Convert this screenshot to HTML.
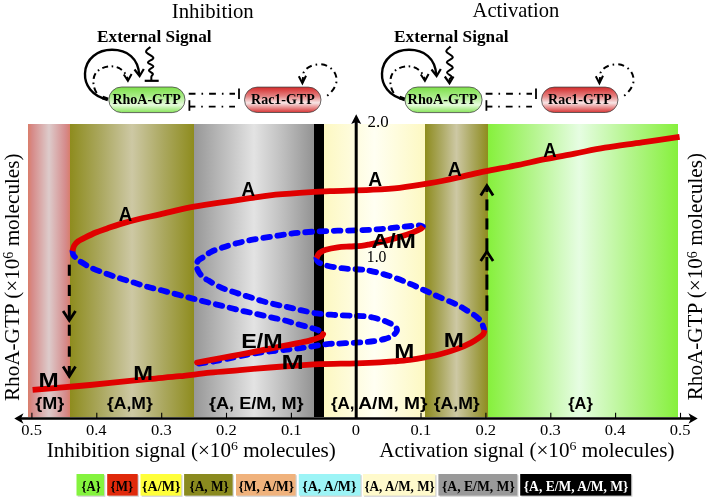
<!DOCTYPE html>
<html><head><meta charset="utf-8"><title>RhoA-GTP bifurcation</title>
<style>html,body{margin:0;padding:0;background:#fff;width:709px;height:503px;overflow:hidden}svg{display:block}</style>
</head><body>
<svg width="709" height="503" viewBox="0 0 709 503">
<defs><linearGradient id="gPink" x1="0" y1="0" x2="1" y2="0"><stop offset="0" stop-color="#DA7E6A"/><stop offset="0.1" stop-color="#D68A88"/><stop offset="0.5" stop-color="#DDCBCB"/><stop offset="0.9" stop-color="#D58A8A"/><stop offset="1" stop-color="#D87E6C"/></linearGradient><linearGradient id="gOlive" x1="0" y1="0" x2="1" y2="0"><stop offset="0" stop-color="#8E8C1E"/><stop offset="0.25" stop-color="#ABA860"/><stop offset="0.5" stop-color="#CDC8A4"/><stop offset="0.75" stop-color="#ABA860"/><stop offset="1" stop-color="#8E8C1E"/></linearGradient><linearGradient id="gGray" x1="0" y1="0" x2="1" y2="0"><stop offset="0" stop-color="#979797"/><stop offset="0.25" stop-color="#BDBDBD"/><stop offset="0.5" stop-color="#E3E3E3"/><stop offset="0.75" stop-color="#BDBDBD"/><stop offset="1" stop-color="#939393"/></linearGradient><linearGradient id="gYel" x1="0" y1="0" x2="1" y2="0"><stop offset="0" stop-color="#FDF8C2"/><stop offset="0.5" stop-color="#FFFFF2"/><stop offset="1" stop-color="#FDF8C2"/></linearGradient><linearGradient id="gGreen" x1="0" y1="0" x2="1" y2="0"><stop offset="0" stop-color="#86F03C"/><stop offset="0.24" stop-color="#B5F58E"/><stop offset="0.48" stop-color="#E6FDE2"/><stop offset="0.74" stop-color="#B5F58E"/><stop offset="1" stop-color="#86F03C"/></linearGradient><linearGradient id="gRho" x1="0" y1="0" x2="0" y2="1"><stop offset="0" stop-color="#7EE04A"/><stop offset="0.35" stop-color="#A6EC84"/><stop offset="0.7" stop-color="#E6FBDC"/><stop offset="1" stop-color="#86E458"/></linearGradient><linearGradient id="gRac" x1="0" y1="0" x2="0" y2="1"><stop offset="0" stop-color="#D52A2A"/><stop offset="0.35" stop-color="#E48080"/><stop offset="0.62" stop-color="#F8E6E6"/><stop offset="1" stop-color="#D83434"/></linearGradient></defs>
<rect width="709" height="503" fill="#fff"/>
<rect x="28" y="124" width="42" height="293" fill="url(#gPink)"/><rect x="70" y="124" width="124" height="293" fill="url(#gOlive)"/><rect x="194" y="124" width="120" height="293" fill="url(#gGray)"/><rect x="314" y="124" width="10" height="293" fill="#000"/><rect x="324" y="124" width="101" height="293" fill="url(#gYel)"/><rect x="425" y="124" width="63" height="293" fill="url(#gOlive)"/><rect x="488" y="124" width="190" height="293" fill="url(#gGreen)"/><path d="M72.50,251.00 C72.63,251.63 72.63,253.55 73.30,254.80 C73.97,256.05 75.33,257.38 76.50,258.50 C77.67,259.62 77.88,259.97 80.30,261.50 C82.72,263.03 86.83,265.73 91.00,267.70 C95.17,269.67 100.48,271.53 105.30,273.30 C110.12,275.07 115.12,276.75 119.90,278.30 C124.68,279.85 129.42,281.18 134.00,282.60 C138.58,284.02 142.82,285.52 147.40,286.80 C151.98,288.08 156.92,289.12 161.50,290.30 C166.08,291.48 170.43,292.72 174.90,293.90 C179.37,295.08 184.12,296.32 188.30,297.40 C192.48,298.48 195.70,299.32 200.00,300.40 C204.30,301.48 209.40,302.73 214.10,303.90 C218.80,305.07 223.50,306.23 228.20,307.40 C232.90,308.57 237.60,309.82 242.30,310.90 C247.00,311.98 251.70,312.85 256.40,313.90 C261.10,314.95 265.80,316.12 270.50,317.20 C275.20,318.28 281.02,319.50 284.60,320.40 C288.18,321.30 289.45,321.87 292.00,322.60 C294.55,323.33 296.92,323.98 299.90,324.80 C302.88,325.62 306.92,326.63 309.90,327.50 C312.88,328.37 315.73,329.05 317.80,330.00 C319.87,330.95 321.55,332.67 322.30,333.20" fill="none" stroke="#0000FF" stroke-width="5.8" stroke-linecap="round" stroke-dasharray="6.6 7.6" stroke-linejoin="round"/><path d="M199.00,363.60 C201.67,363.20 208.75,362.32 215.00,361.20 C221.25,360.08 229.83,358.20 236.50,356.90 C243.17,355.60 249.42,354.32 255.00,353.40 C260.58,352.48 265.62,351.93 270.00,351.40 C274.38,350.87 278.00,350.55 281.30,350.20 C284.60,349.85 286.07,349.72 289.80,349.30 C293.53,348.88 298.73,348.38 303.70,347.70 C308.67,347.02 315.38,345.83 319.60,345.20 C323.82,344.57 325.98,344.17 329.00,343.90 C332.02,343.63 333.98,343.77 337.70,343.60 C341.42,343.43 347.15,343.12 351.30,342.90 C355.45,342.68 358.83,342.58 362.60,342.30 C366.37,342.02 370.15,341.77 373.90,341.20 C377.65,340.63 382.10,339.75 385.10,338.90 C388.10,338.05 390.08,337.17 391.90,336.10 C393.72,335.03 395.15,333.53 396.00,332.50 C396.85,331.47 397.13,330.98 397.00,329.90 C396.87,328.82 396.23,327.03 395.20,326.00 C394.17,324.97 392.85,324.65 390.80,323.70 C388.75,322.75 385.92,321.33 382.90,320.30 C379.88,319.27 376.08,318.20 372.70,317.50 C369.32,316.80 366.17,316.38 362.60,316.10 C359.03,315.82 356.12,316.00 351.30,315.80 C346.48,315.60 339.45,315.30 333.70,314.90 C327.95,314.50 322.10,314.15 316.80,313.40 C311.50,312.65 306.55,311.40 301.90,310.40 C297.25,309.40 293.18,308.37 288.90,307.40 C284.62,306.43 280.67,305.67 276.20,304.60 C271.73,303.53 266.68,302.30 262.10,301.00 C257.52,299.70 253.17,298.20 248.70,296.80 C244.23,295.40 239.88,294.13 235.30,292.60 C230.72,291.07 225.67,289.60 221.20,287.60 C216.73,285.60 211.57,282.37 208.50,280.60 C205.43,278.83 204.47,278.52 202.80,277.00 C201.13,275.48 199.55,273.42 198.50,271.50 C197.45,269.58 196.53,267.33 196.50,265.50 C196.47,263.67 197.03,261.97 198.30,260.50 C199.57,259.03 201.95,258.15 204.10,256.70 C206.25,255.25 208.15,253.32 211.20,251.80 C214.25,250.28 218.18,249.02 222.40,247.60 C226.62,246.18 231.90,244.53 236.50,243.30 C241.10,242.07 245.28,241.13 250.00,240.20 C254.72,239.27 260.10,238.47 264.80,237.70 C269.50,236.93 274.00,236.27 278.20,235.60 C282.40,234.93 286.05,234.22 290.00,233.70 C293.95,233.18 296.93,232.90 301.90,232.50 C306.87,232.10 313.83,231.60 319.80,231.30 C325.77,231.00 331.73,230.85 337.70,230.70 C343.67,230.55 349.92,230.57 355.60,230.40 C361.28,230.23 366.85,230.00 371.80,229.70 C376.75,229.40 380.78,229.00 385.30,228.60 C389.82,228.20 394.38,227.75 398.90,227.30 C403.42,226.85 409.05,226.20 412.40,225.90 C415.75,225.60 417.23,225.40 419.00,225.50 C420.77,225.60 422.33,226.33 423.00,226.50" fill="none" stroke="#0000FF" stroke-width="5.8" stroke-linecap="round" stroke-dasharray="6.6 7.6" stroke-linejoin="round"/><path d="M316.50,258.30 C316.75,258.92 316.45,260.83 318.00,262.00 C319.55,263.17 322.52,264.35 325.80,265.30 C329.08,266.25 333.73,267.10 337.70,267.70 C341.67,268.30 345.43,268.58 349.60,268.90 C353.77,269.22 359.25,269.27 362.70,269.60 C366.15,269.93 366.92,270.17 370.30,270.90 C373.68,271.63 378.55,272.73 383.00,274.00 C387.45,275.27 392.35,276.80 397.00,278.50 C401.65,280.20 406.25,282.20 410.90,284.20 C415.55,286.20 420.23,288.38 424.90,290.50 C429.57,292.62 433.70,294.60 438.90,296.90 C444.10,299.20 451.38,302.00 456.10,304.30 C460.82,306.60 463.75,308.58 467.20,310.70 C470.65,312.82 474.42,315.03 476.80,317.00 C479.18,318.97 480.30,320.50 481.50,322.50 C482.70,324.50 483.58,327.92 484.00,329.00" fill="none" stroke="#0000FF" stroke-width="5.8" stroke-linecap="round" stroke-dasharray="6.6 7.6" stroke-linejoin="round"/><path d="M72.50,251.00 C72.78,250.10 73.28,247.20 74.20,245.60 C75.12,244.00 76.38,242.63 78.00,241.40 C79.62,240.17 80.93,239.68 83.90,238.20 C86.87,236.72 91.83,234.17 95.80,232.50 C99.77,230.83 103.67,229.60 107.70,228.20 C111.73,226.80 114.62,225.68 120.00,224.10 C125.38,222.52 133.33,220.32 140.00,218.70 C146.67,217.08 151.67,216.28 160.00,214.40 C168.33,212.52 180.07,209.35 190.00,207.40 C199.93,205.45 209.60,204.23 219.60,202.70 C229.60,201.17 241.60,199.43 250.00,198.20 C258.40,196.97 261.73,196.18 270.00,195.30 C278.27,194.42 289.60,193.58 299.60,192.90 C309.60,192.22 318.27,191.72 330.00,191.20 C341.73,190.68 358.40,190.37 370.00,189.80 C381.60,189.23 389.60,188.90 399.60,187.80 C409.60,186.70 420.00,184.97 430.00,183.20 C440.00,181.43 450.43,179.17 459.60,177.20 C468.77,175.23 475.83,173.32 485.00,171.40 C494.17,169.48 504.60,167.73 514.60,165.70 C524.60,163.67 535.00,161.22 545.00,159.20 C555.00,157.18 564.60,155.52 574.60,153.60 C584.60,151.68 593.77,149.57 605.00,147.70 C616.23,145.83 629.57,144.22 642.00,142.40 C654.43,140.58 673.33,137.73 679.60,136.80" fill="none" stroke="#E00000" stroke-width="5.8" stroke-linecap="butt" stroke-linejoin="round"/><path d="M323.10,334.10 C322.92,334.38 322.53,335.30 322.00,335.80 C321.47,336.30 321.83,336.33 319.90,337.10 C317.97,337.87 314.10,339.40 310.40,340.40 C306.70,341.40 301.93,342.25 297.70,343.10 C293.47,343.95 289.62,344.58 285.00,345.50 C280.38,346.42 275.00,347.58 270.00,348.60 C265.00,349.62 260.00,350.62 255.00,351.60 C250.00,352.58 245.67,353.43 240.00,354.50 C234.33,355.57 226.00,357.07 221.00,358.00 C216.00,358.93 214.00,359.35 210.00,360.10 C206.00,360.85 199.17,362.10 197.00,362.50" fill="none" stroke="#E00000" stroke-width="5.8" stroke-linecap="round" stroke-linejoin="round"/><path d="M423.00,226.50 C422.73,226.85 423.17,227.58 421.40,228.60 C419.63,229.62 416.15,231.18 412.40,232.60 C408.65,234.02 403.98,235.60 398.90,237.10 C393.82,238.60 386.72,240.40 381.90,241.60 C377.08,242.80 373.40,243.60 370.00,244.30 C366.60,245.00 364.90,245.43 361.50,245.80 C358.10,246.17 353.57,246.23 349.60,246.50 C345.63,246.77 341.67,246.85 337.70,247.40 C333.73,247.95 328.83,248.87 325.80,249.80 C322.77,250.73 321.05,251.58 319.50,253.00 C317.95,254.42 317.00,257.42 316.50,258.30" fill="none" stroke="#E00000" stroke-width="5.8" stroke-linecap="butt" stroke-linejoin="round"/><path d="M484.50,330.00 C484.35,330.60 484.32,332.45 483.60,333.60 C482.88,334.75 482.25,335.40 480.20,336.90 C478.15,338.40 475.02,340.65 471.30,342.60 C467.58,344.55 463.12,346.65 457.90,348.60 C452.68,350.55 445.48,352.85 440.00,354.30 C434.52,355.75 430.07,356.38 425.00,357.30 C419.93,358.22 414.60,359.13 409.60,359.80 C404.60,360.47 399.93,360.87 395.00,361.30 C390.07,361.73 386.50,362.07 380.00,362.40 C373.50,362.73 366.00,363.02 356.00,363.30 C346.00,363.58 329.33,363.75 320.00,364.10 C310.67,364.45 308.33,364.83 300.00,365.40 C291.67,365.97 280.07,366.70 270.00,367.50 C259.93,368.30 249.60,369.33 239.60,370.20 C229.60,371.07 220.00,371.70 210.00,372.70 C200.00,373.70 189.60,375.17 179.60,376.20 C169.60,377.23 159.93,377.95 150.00,378.90 C140.07,379.85 130.00,380.88 120.00,381.90 C110.00,382.92 100.07,384.05 90.00,385.00 C79.93,385.95 69.17,386.80 59.60,387.60 C50.03,388.40 37.10,389.43 32.60,389.80" fill="none" stroke="#E00000" stroke-width="5.8" stroke-linecap="butt" stroke-linejoin="round"/><line x1="69.3" y1="264.7" x2="69.3" y2="275.8" stroke="#000" stroke-width="3.0"/><line x1="69.3" y1="284.9" x2="69.3" y2="296" stroke="#000" stroke-width="3.0"/><line x1="69.3" y1="305" x2="69.3" y2="320" stroke="#000" stroke-width="3.0"/><line x1="69.3" y1="324.7" x2="69.3" y2="335.8" stroke="#000" stroke-width="3.0"/><line x1="69.3" y1="346.3" x2="69.3" y2="356.7" stroke="#000" stroke-width="3.0"/><line x1="69.3" y1="366" x2="69.3" y2="376" stroke="#000" stroke-width="3.0"/><polyline points="63.099999999999994,311.0 69.3,320.5 75.5,311.0" fill="none" stroke="#000" stroke-width="2.8" stroke-linejoin="miter"/><polyline points="63.099999999999994,366.5 69.3,376.3 75.5,366.5" fill="none" stroke="#000" stroke-width="2.8" stroke-linejoin="miter"/><line x1="486.9" y1="295.4" x2="486.9" y2="310.8" stroke="#000" stroke-width="3.0"/><line x1="486.9" y1="274.6" x2="486.9" y2="289.7" stroke="#000" stroke-width="3.0"/><line x1="486.9" y1="257" x2="486.9" y2="270.5" stroke="#000" stroke-width="3.0"/><line x1="486.9" y1="238.3" x2="486.9" y2="252" stroke="#000" stroke-width="3.0"/><line x1="486.9" y1="218.4" x2="486.9" y2="229.5" stroke="#000" stroke-width="3.0"/><line x1="486.9" y1="199.4" x2="486.9" y2="210.5" stroke="#000" stroke-width="3.0"/><line x1="486.9" y1="186" x2="486.9" y2="192" stroke="#000" stroke-width="3.0"/><polyline points="480.7,261.0 486.9,251.5 493.09999999999997,261.0" fill="none" stroke="#000" stroke-width="2.8" stroke-linejoin="miter"/><polyline points="480.7,195.6 486.9,185.6 493.09999999999997,195.6" fill="none" stroke="#000" stroke-width="2.8" stroke-linejoin="miter"/><line x1="19" y1="418.5" x2="692" y2="418.5" stroke="#000" stroke-width="2.6"/><path d="M14.3,418.5 L23.5,413.2 L21,418.5 L23.5,423.8 Z" fill="#000"/><path d="M697.7,418.5 L688.5,413.2 L691,418.5 L688.5,423.8 Z" fill="#000"/><line x1="356.2" y1="419" x2="356.2" y2="121" stroke="#000" stroke-width="3"/><path d="M356.2,114.3 L351.2,124 L356.2,122 L361.2,124 Z" fill="#000"/><line x1="31.9" y1="412.8" x2="31.9" y2="418" stroke="#000" stroke-width="1.1"/><line x1="96.8" y1="412.8" x2="96.8" y2="418" stroke="#000" stroke-width="1.1"/><line x1="161.7" y1="412.8" x2="161.7" y2="418" stroke="#000" stroke-width="1.1"/><line x1="226.5" y1="412.8" x2="226.5" y2="418" stroke="#000" stroke-width="1.1"/><line x1="291.4" y1="412.8" x2="291.4" y2="418" stroke="#000" stroke-width="1.1"/><line x1="421.0" y1="412.8" x2="421.0" y2="418" stroke="#000" stroke-width="1.1"/><line x1="485.9" y1="412.8" x2="485.9" y2="418" stroke="#000" stroke-width="1.1"/><line x1="550.8" y1="412.8" x2="550.8" y2="418" stroke="#000" stroke-width="1.1"/><line x1="615.6" y1="412.8" x2="615.6" y2="418" stroke="#000" stroke-width="1.1"/><line x1="680.5" y1="412.8" x2="680.5" y2="418" stroke="#000" stroke-width="1.1"/><text transform="translate(21.31,435.20) scale(1.0600,1)" font-family="'Liberation Serif','Times New Roman',serif" font-weight="normal" font-size="15.6" fill="#000" >0.5</text><text transform="translate(85.96,435.20) scale(1.0600,1)" font-family="'Liberation Serif','Times New Roman',serif" font-weight="normal" font-size="15.6" fill="#000" >0.4</text><text transform="translate(151.01,435.20) scale(1.0600,1)" font-family="'Liberation Serif','Times New Roman',serif" font-weight="normal" font-size="15.6" fill="#000" >0.3</text><text transform="translate(215.99,435.20) scale(1.0600,1)" font-family="'Liberation Serif','Times New Roman',serif" font-weight="normal" font-size="15.6" fill="#000" >0.2</text><text transform="translate(280.88,435.20) scale(1.0600,1)" font-family="'Liberation Serif','Times New Roman',serif" font-weight="normal" font-size="15.6" fill="#000" >0.1</text><text transform="translate(351.77,435.20) scale(1.0600,1)" font-family="'Liberation Serif','Times New Roman',serif" font-weight="normal" font-size="15.6" fill="#000" >0</text><text transform="translate(410.58,435.20) scale(1.0600,1)" font-family="'Liberation Serif','Times New Roman',serif" font-weight="normal" font-size="15.6" fill="#000" >0.1</text><text transform="translate(475.39,435.20) scale(1.0600,1)" font-family="'Liberation Serif','Times New Roman',serif" font-weight="normal" font-size="15.6" fill="#000" >0.2</text><text transform="translate(540.12,435.20) scale(1.0600,1)" font-family="'Liberation Serif','Times New Roman',serif" font-weight="normal" font-size="15.6" fill="#000" >0.3</text><text transform="translate(604.76,435.20) scale(1.0600,1)" font-family="'Liberation Serif','Times New Roman',serif" font-weight="normal" font-size="15.6" fill="#000" >0.4</text><text transform="translate(669.82,435.20) scale(1.0600,1)" font-family="'Liberation Serif','Times New Roman',serif" font-weight="normal" font-size="15.6" fill="#000" >0.5</text><text transform="translate(367.54,127.30) scale(1.0187,1)" font-family="'Liberation Serif','Times New Roman',serif" font-weight="normal" font-size="16.6" fill="#000" >2.0</text><text transform="translate(366.79,262.00) scale(0.9700,1)" font-family="'Liberation Serif','Times New Roman',serif" font-weight="normal" font-size="16.2" fill="#000" >1.0</text><text transform="translate(171.77,17.60) scale(1.0194,1)" font-family="'Liberation Serif','Times New Roman',serif" font-weight="normal" font-size="20.4" fill="#000" >Inhibition</text><text transform="translate(472.59,16.90) scale(1.0073,1)" font-family="'Liberation Serif','Times New Roman',serif" font-weight="normal" font-size="20.4" fill="#000" >Activation</text><text transform="translate(118.83,220.60) scale(0.9519,1)" font-family="'Liberation Sans',Arial,sans-serif" font-weight="bold" font-size="19.6" fill="#000" >A</text><text transform="translate(241.53,195.70) scale(0.9595,1)" font-family="'Liberation Sans',Arial,sans-serif" font-weight="bold" font-size="19.6" fill="#000" >A</text><text transform="translate(368.32,186.20) scale(0.9823,1)" font-family="'Liberation Sans',Arial,sans-serif" font-weight="bold" font-size="19.6" fill="#000" >A</text><text transform="translate(447.81,176.00) scale(0.9899,1)" font-family="'Liberation Sans',Arial,sans-serif" font-weight="bold" font-size="19.6" fill="#000" >A</text><text transform="translate(543.34,156.60) scale(0.9443,1)" font-family="'Liberation Sans',Arial,sans-serif" font-weight="bold" font-size="19.6" fill="#000" >A</text><text transform="translate(371.60,247.50) scale(1.2345,1)" font-family="'Liberation Sans',Arial,sans-serif" font-weight="bold" font-size="19.6" fill="#000" >A/M</text><text transform="translate(241.29,347.60) scale(1.1879,1)" font-family="'Liberation Sans',Arial,sans-serif" font-weight="bold" font-size="19.6" fill="#000" >E/M</text><text transform="translate(38.62,386.70) scale(1.2391,1)" font-family="'Liberation Sans',Arial,sans-serif" font-weight="bold" font-size="19.6" fill="#000" >M</text><text transform="translate(133.26,379.80) scale(1.2099,1)" font-family="'Liberation Sans',Arial,sans-serif" font-weight="bold" font-size="19.6" fill="#000" >M</text><text transform="translate(281.56,368.70) scale(1.3630,1)" font-family="'Liberation Sans',Arial,sans-serif" font-weight="bold" font-size="19.6" fill="#000" >M</text><text transform="translate(394.33,358.40) scale(1.2318,1)" font-family="'Liberation Sans',Arial,sans-serif" font-weight="bold" font-size="19.6" fill="#000" >M</text><text transform="translate(443.73,347.00) scale(1.2318,1)" font-family="'Liberation Sans',Arial,sans-serif" font-weight="bold" font-size="19.6" fill="#000" >M</text><text transform="translate(35.23,408.60) scale(1.1416,1)" font-family="'Liberation Sans',Arial,sans-serif" font-weight="bold" font-size="15.8" fill="#000" >{M}</text><text transform="translate(106.94,408.60) scale(1.1113,1)" font-family="'Liberation Sans',Arial,sans-serif" font-weight="bold" font-size="15.8" fill="#000" >{A,M}</text><text transform="translate(208.93,408.60) scale(1.1476,1)" font-family="'Liberation Sans',Arial,sans-serif" font-weight="bold" font-size="15.8" fill="#000" >{A, E/M, M}</text><text transform="translate(330.94,408.60) scale(1.0767,1)" font-family="'Liberation Sans',Arial,sans-serif" font-weight="bold" font-size="15.8" fill="#000" >{A,</text><text transform="translate(358.22,408.60) scale(1.2162,1)" font-family="'Liberation Sans',Arial,sans-serif" font-weight="bold" font-size="15.8" fill="#000" >A/M, M}</text><text transform="translate(433.63,408.60) scale(1.1186,1)" font-family="'Liberation Sans',Arial,sans-serif" font-weight="bold" font-size="15.8" fill="#000" >{A,M}</text><text transform="translate(568.25,408.60) scale(1.0376,1)" font-family="'Liberation Sans',Arial,sans-serif" font-weight="bold" font-size="15.8" fill="#000" >{A}</text>
<text transform="translate(46.66,456.80) scale(1.0356,1)" font-family="'Liberation Serif','Times New Roman',serif" font-size="20.4" fill="#000">Inhibition signal (×10<tspan font-size="13.4" dy="-6.6">6</tspan><tspan dy="6.6"> molecules)</tspan></text><text transform="translate(379.19,456.80) scale(1.0360,1)" font-family="'Liberation Serif','Times New Roman',serif" font-size="20.4" fill="#000">Activation signal (×10<tspan font-size="13.4" dy="-6.6">6</tspan><tspan dy="6.6"> molecules)</tspan></text><text transform="translate(18.60,401.04) rotate(-90) scale(1.0812,1.1200)" font-family="'Liberation Serif','Times New Roman',serif" font-size="19.6" fill="#000">RhoA-GTP (×10<tspan font-size="13.0" dy="-4.6">6</tspan><tspan dy="4.6"> molecules)</tspan></text><text transform="translate(702.40,400.23) rotate(-90) scale(1.0790,1.1200)" font-family="'Liberation Serif','Times New Roman',serif" font-size="19.6" fill="#000">RhoA-GTP (×10<tspan font-size="13.0" dy="-4.6">6</tspan><tspan dy="4.6"> molecules)</tspan></text>
<rect x="77.7" y="475.2" width="27.599999999999994" height="21.6" fill="#999" opacity="0.45"/><rect x="76.5" y="474" width="27.599999999999994" height="21.6" fill="#84F33E"/><text transform="translate(81.52,490.80) scale(0.8919,1)" font-family="'Liberation Serif','Times New Roman',serif" font-weight="bold" font-size="14.2" fill="#000" >{A}</text><rect x="108.4" y="475.2" width="30.499999999999986" height="21.6" fill="#999" opacity="0.45"/><rect x="107.2" y="474" width="30.499999999999986" height="21.6" fill="#E0290B"/><text transform="translate(110.51,490.80) scale(0.9151,1)" font-family="'Liberation Serif','Times New Roman',serif" font-weight="bold" font-size="14.2" fill="#000" >{M}</text><rect x="141.7" y="475.2" width="40.80000000000001" height="21.6" fill="#999" opacity="0.45"/><rect x="140.5" y="474" width="40.80000000000001" height="21.6" fill="#FFFF3A"/><text transform="translate(142.08,490.80) scale(0.9891,1)" font-family="'Liberation Serif','Times New Roman',serif" font-weight="bold" font-size="14.2" fill="#000" >{A/M}</text><rect x="185.29999999999998" y="475.2" width="48.5" height="21.6" fill="#999" opacity="0.45"/><rect x="184.1" y="474" width="48.5" height="21.6" fill="#8A8A1F"/><text transform="translate(189.40,490.80) scale(0.9406,1)" font-family="'Liberation Serif','Times New Roman',serif" font-weight="bold" font-size="14.2" fill="#000" >{A, M}</text><rect x="237.2" y="475.2" width="59.60000000000002" height="21.6" fill="#999" opacity="0.45"/><rect x="236.0" y="474" width="59.60000000000002" height="21.6" fill="#F0B27C"/><text transform="translate(238.49,490.80) scale(0.9517,1)" font-family="'Liberation Serif','Times New Roman',serif" font-weight="bold" font-size="14.2" fill="#000" >{M, A/M}</text><rect x="300.0" y="475.2" width="61.69999999999999" height="21.6" fill="#999" opacity="0.45"/><rect x="298.8" y="474" width="61.69999999999999" height="21.6" fill="#9CF4F6"/><text transform="translate(302.18,490.80) scale(0.9788,1)" font-family="'Liberation Serif','Times New Roman',serif" font-weight="bold" font-size="14.2" fill="#000" >{A, A/M}</text><rect x="364.09999999999997" y="475.2" width="72.40000000000003" height="21.6" fill="#999" opacity="0.45"/><rect x="362.9" y="474" width="72.40000000000003" height="21.6" fill="#FFFACC"/><text transform="translate(364.40,490.80) scale(0.9283,1)" font-family="'Liberation Serif','Times New Roman',serif" font-weight="bold" font-size="14.2" fill="#000" >{A, A/M, M}</text><rect x="439.59999999999997" y="475.2" width="78.89999999999998" height="21.6" fill="#999" opacity="0.45"/><rect x="438.4" y="474" width="78.89999999999998" height="21.6" fill="#999999"/><text transform="translate(441.99,490.80) scale(0.9603,1)" font-family="'Liberation Serif','Times New Roman',serif" font-weight="bold" font-size="14.2" fill="#000" >{A, E/M, M}</text><rect x="521.4000000000001" y="475.2" width="111.0" height="21.6" fill="#999" opacity="0.45"/><rect x="520.2" y="474" width="111.0" height="21.6" fill="#000000"/><text transform="translate(523.79,490.80) scale(0.9527,1)" font-family="'Liberation Serif','Times New Roman',serif" font-weight="bold" font-size="14.2" fill="#fff" >{A, E/M, A/M, M}</text>
<text transform="translate(97.04,41.50) scale(1.0397,1)" font-family="'Liberation Serif','Times New Roman',serif" font-weight="bold" font-size="16.6" fill="#000" >External Signal</text><path d="M107,99.3 C92,96 84.5,85 85,73.5 C85.5,58.5 98,49.8 112,49.8 C127,49.8 138.5,58 139.3,75.5" fill="none" stroke="#000" stroke-width="2.4"/><path d="M102.5,97.5 L108,99.5" stroke="#000" stroke-width="3.5"/><polyline points="134.5,69.5 139.6,76 143.8,69" fill="none" stroke="#000" stroke-width="2.2"/><path d="M96.7,93 C92,86 92.5,76 97,71.5 C103,66 113,65 119,68 C124,71 127,75 127.8,80" fill="none" stroke="#000" stroke-width="2" stroke-dasharray="6 3.5 1.6 3.5"/><polyline points="123.8,74.5 127.9,80.8 131.6,74" fill="none" stroke="#000" stroke-width="2"/><path d="M150.40,47.00 C149.68,47.82 145.60,50.08 146.10,51.90 C146.60,53.72 153.10,56.15 153.40,57.90 C153.70,59.65 147.90,61.00 147.90,62.40 C147.90,63.80 153.23,64.98 153.40,66.30 C153.57,67.62 148.98,69.05 148.90,70.30 C148.82,71.55 152.48,72.77 152.90,73.80 C153.32,74.83 151.65,75.33 151.40,76.50 C151.15,77.67 151.40,80.08 151.40,80.80" fill="none" stroke="#000" stroke-width="2"/><line x1="144.7" y1="80.8" x2="158.7" y2="80.8" stroke="#000" stroke-width="2.2"/><rect x="108.8" y="87" width="76.2" height="25.6" rx="12.8" fill="url(#gRho)" stroke="#444" stroke-width="0.8"/><text transform="translate(112.39,104.20) scale(0.9747,1)" font-family="'Liberation Serif','Times New Roman',serif" font-weight="bold" font-size="14.4" fill="#000" >RhoA-GTP</text><rect x="244.5" y="87.1" width="76.5" height="25.4" rx="12.7" fill="url(#gRac)" stroke="#444" stroke-width="0.8"/><text transform="translate(251.09,104.20) scale(0.9701,1)" font-family="'Liberation Serif','Times New Roman',serif" font-weight="bold" font-size="14.4" fill="#000" >Rac1-GTP</text><line x1="188.7" y1="93.7" x2="235" y2="93.7" stroke="#000" stroke-width="1.9" stroke-dasharray="6.8 6 1.6 6"/><line x1="239" y1="88.4" x2="239" y2="99" stroke="#000" stroke-width="1.8"/><line x1="189.4" y1="100.2" x2="189.4" y2="110.8" stroke="#000" stroke-width="1.8"/><line x1="189.4" y1="106.6" x2="195.4" y2="106.6" stroke="#000" stroke-width="1.9"/><line x1="201.2" y1="106.6" x2="235" y2="106.6" stroke="#000" stroke-width="1.9" stroke-dasharray="1.6 6 6.8 6"/><path d="M327.2,95.7 C333,91 337,85 336.6,79 C336,71 329,64.5 320,64.3 C312,64.3 305,68 303.5,73 L302.5,82.5" fill="none" stroke="#000" stroke-width="2" stroke-dasharray="1.6 4 6 4"/><polyline points="298.8,76.2 302.4,83.2 306,75.8" fill="none" stroke="#000" stroke-width="2"/><text transform="translate(394.04,41.50) scale(1.0397,1)" font-family="'Liberation Serif','Times New Roman',serif" font-weight="bold" font-size="16.6" fill="#000" >External Signal</text><path d="M404,99.3 C389,96 381.5,85 382,73.5 C382.5,58.5 395,49.8 409,49.8 C424,49.8 435.5,58 436.3,75.5" fill="none" stroke="#000" stroke-width="2.4"/><path d="M399.5,97.5 L405,99.5" stroke="#000" stroke-width="3.5"/><polyline points="431.5,69.5 436.6,76 440.8,69" fill="none" stroke="#000" stroke-width="2.2"/><path d="M393.7,93 C389,86 389.5,76 394,71.5 C400,66 410,65 416,68 C421,71 424,75 424.8,80" fill="none" stroke="#000" stroke-width="2" stroke-dasharray="6 3.5 1.6 3.5"/><polyline points="420.8,74.5 424.9,80.8 428.6,74" fill="none" stroke="#000" stroke-width="2"/><path d="M450.60,46.50 C449.88,47.33 445.93,49.72 446.30,51.50 C446.67,53.28 452.72,55.40 452.80,57.20 C452.88,59.00 446.80,60.58 446.80,62.30 C446.80,64.02 452.77,65.80 452.80,67.50 C452.83,69.20 447.22,71.00 447.00,72.50 C446.78,74.00 451.08,75.33 451.50,76.50 C451.92,77.67 449.83,78.50 449.50,79.50 C449.17,80.50 449.50,82.00 449.50,82.50" fill="none" stroke="#000" stroke-width="2"/><polyline points="444.8,76.5 449.5,83.3 453.5,76.5" fill="none" stroke="#000" stroke-width="2.2"/><rect x="404.9" y="87" width="77.2" height="25.6" rx="12.8" fill="url(#gRho)" stroke="#444" stroke-width="0.8"/><text transform="translate(407.59,104.20) scale(0.9919,1)" font-family="'Liberation Serif','Times New Roman',serif" font-weight="bold" font-size="14.4" fill="#000" >RhoA-GTP</text><rect x="541.5" y="87.1" width="76.5" height="25.4" rx="12.7" fill="url(#gRac)" stroke="#444" stroke-width="0.8"/><text transform="translate(548.09,104.20) scale(0.9701,1)" font-family="'Liberation Serif','Times New Roman',serif" font-weight="bold" font-size="14.4" fill="#000" >Rac1-GTP</text><line x1="485.7" y1="93.7" x2="532" y2="93.7" stroke="#000" stroke-width="1.9" stroke-dasharray="6.8 6 1.6 6"/><line x1="536" y1="88.4" x2="536" y2="99" stroke="#000" stroke-width="1.8"/><line x1="486.4" y1="100.2" x2="486.4" y2="110.8" stroke="#000" stroke-width="1.8"/><line x1="486.4" y1="106.6" x2="492.4" y2="106.6" stroke="#000" stroke-width="1.9"/><line x1="498.2" y1="106.6" x2="532" y2="106.6" stroke="#000" stroke-width="1.9" stroke-dasharray="1.6 6 6.8 6"/><path d="M624.2,95.7 C630,91 634,85 633.6,79 C633,71 626,64.5 617,64.3 C609,64.3 602,68 600.5,73 L599.5,82.5" fill="none" stroke="#000" stroke-width="2" stroke-dasharray="1.6 4 6 4"/><polyline points="595.8,76.2 599.4,83.2 603,75.8" fill="none" stroke="#000" stroke-width="2"/>
</svg>
</body></html>
